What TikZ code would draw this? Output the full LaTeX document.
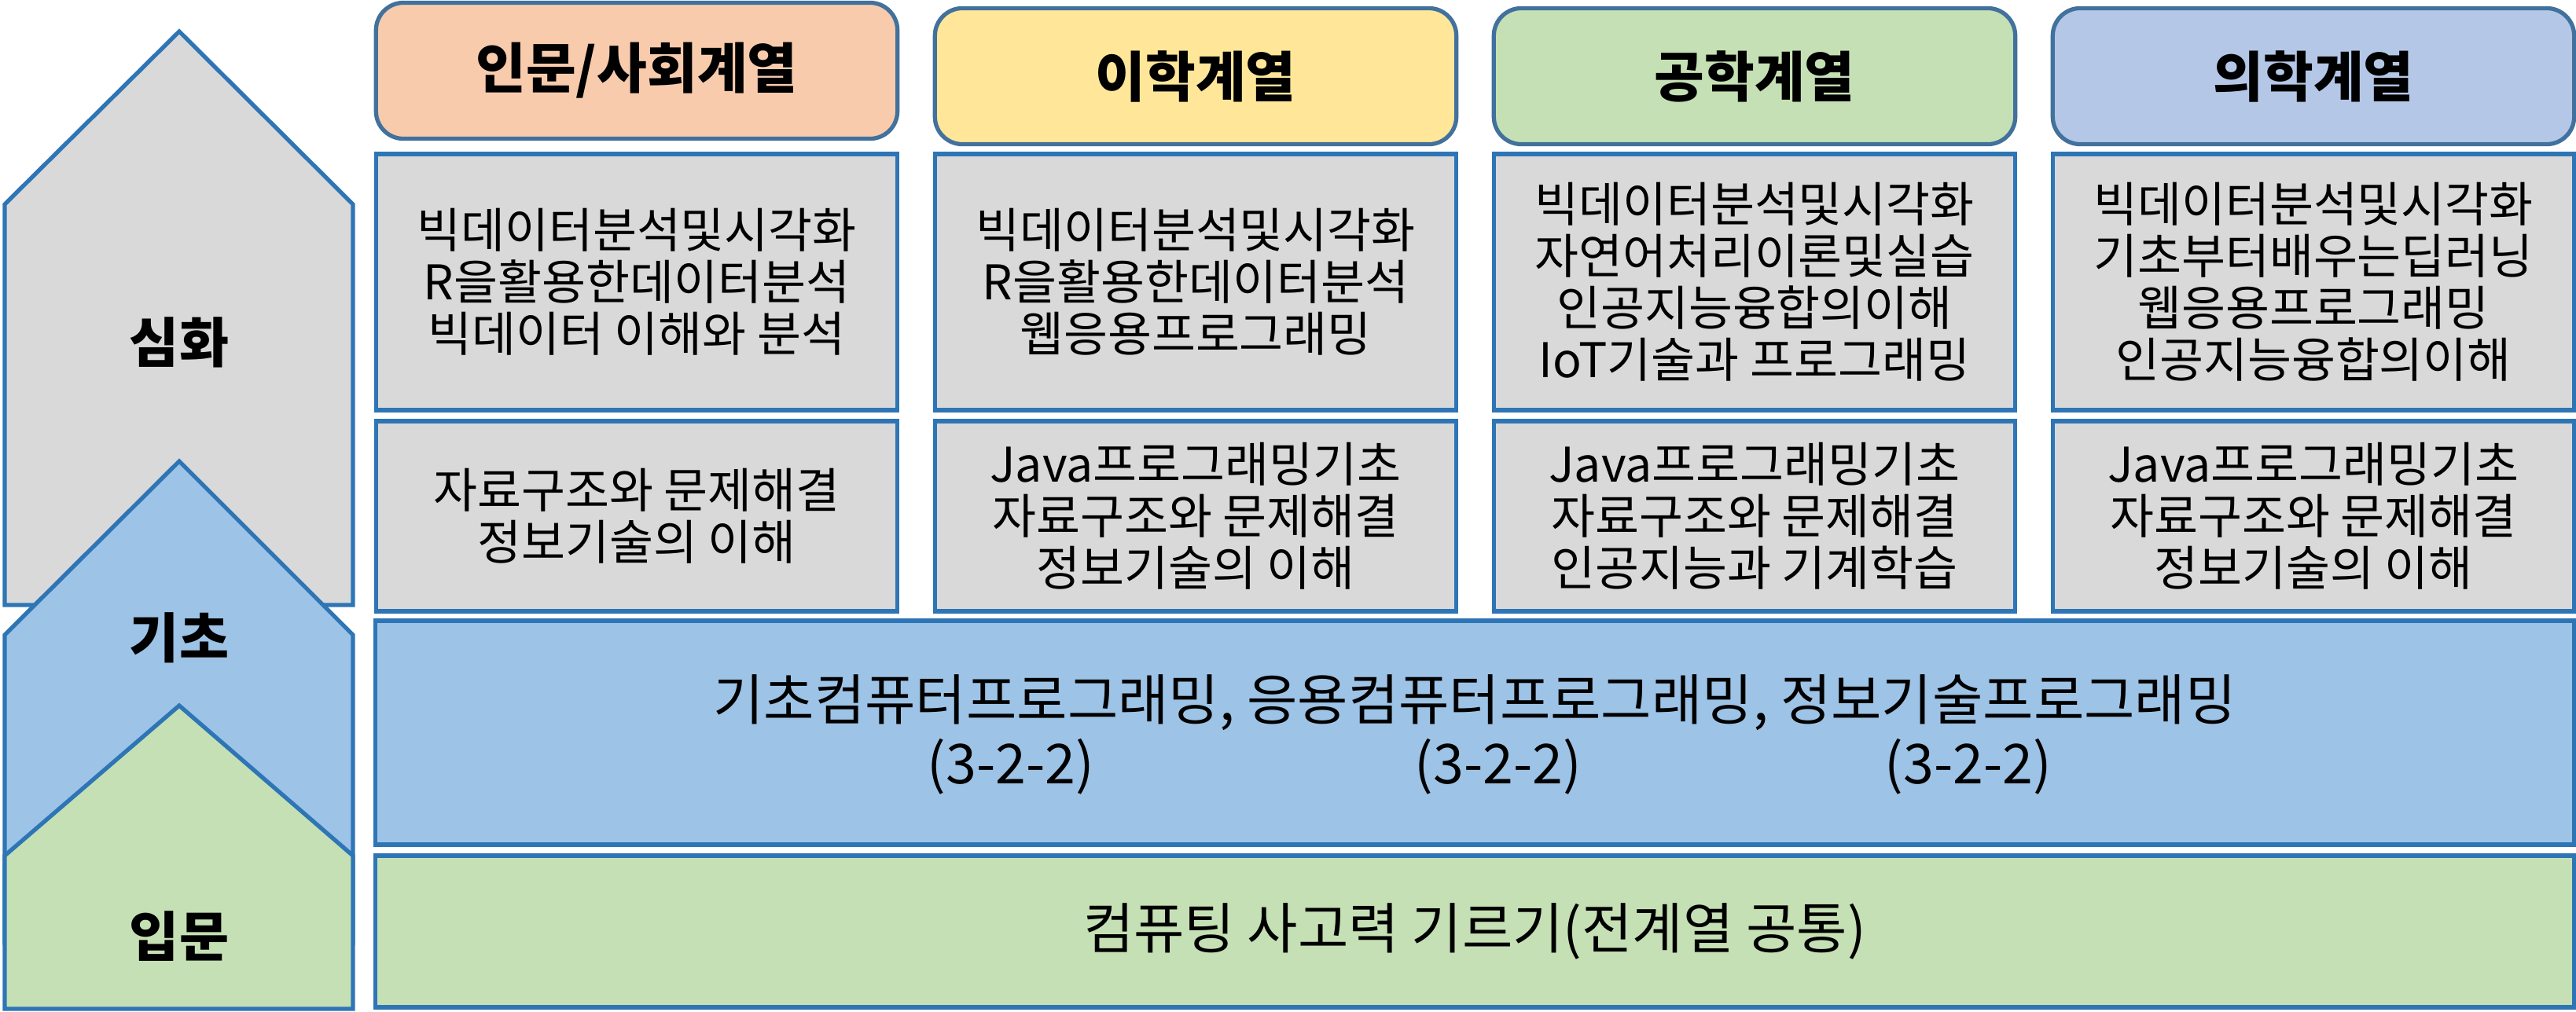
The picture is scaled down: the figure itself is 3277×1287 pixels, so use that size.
\documentclass[tikz,border=0pt]{standalone}
\usepackage{fontspec}
\setmainfont{Noto Sans CJK KR}
\definecolor{edge}{HTML}{2E75B6}
\definecolor{hedge}{HTML}{41719C}
\definecolor{peach}{HTML}{F8CBAD}
\definecolor{yel}{HTML}{FFE699}
\definecolor{grn}{HTML}{C5E0B4}
\definecolor{lav}{HTML}{B4C7E7}
\definecolor{gry}{HTML}{D9D9D9}
\definecolor{blu}{HTML}{9DC3E6}
\begin{document}
\begin{tikzpicture}[x=0.01cm,y=-0.01cm,
  lw/.style={line width=1.5pt},
  shapeedge/.style={draw=edge, lw},
  hdr/.style={draw=hedge, lw, rounded corners=0.35cm, minimum width=6.63cm, minimum height=1.73cm, inner sep=0pt, outer sep=0pt, font=\fontsize{19.7}{23}\selectfont\bfseries},
  cell/.style={draw=edge, lw, fill=gry, minimum width=6.63cm, inner sep=0pt, outer sep=0pt, align=center, font=\fontsize{17.3}{18.78}\selectfont},
  row1/.style={cell, minimum height=3.26cm},
  row2/.style={cell, minimum height=2.42cm},
  wide/.style={draw=edge, lw, minimum width=27.96cm, inner sep=0pt, outer sep=0pt},
  bigtxt/.style={inner sep=0pt, font=\fontsize{19.9}{23.3}\selectfont},
  lbl/.style={inner sep=0pt, font=\fontsize{19.5}{23}\selectfont\bfseries}
]
\useasboundingbox (0,0) rectangle (3277,1287);

% left level pentagons
\draw[shapeedge, fill=gry] (6,260) -- (228,40) -- (449,260) -- (449,770) -- (6,770) -- cycle;
\draw[shapeedge, fill=blu] (6,808) -- (228,587) -- (449,808) -- (449,1200) -- (6,1200) -- cycle;
\draw[shapeedge, fill=grn] (6,1089) -- (228,898) -- (449,1089) -- (449,1284) -- (6,1284) -- cycle;
\node[lbl] (simhwa) at (228,436) {심화};
\node[lbl] (gicho) at (228,812) {기초};
\node[lbl] (ipmun) at (228,1192) {입문};

% headers
\node[hdr, fill=peach] (h1) at (810,90) {인문/사회계열};
\node[hdr, fill=yel] (h2) at (1521,97) {이학계열};
\node[hdr, fill=grn] (h3) at (2232,97) {공학계열};
\node[hdr, fill=lav] (h4) at (2943,97) {의학계열};

% row 1
\node[row1] (a1) at (810,359) {빅데이터분석및시각화\\R을활용한데이터분석\\빅데이터 이해와 분석};
\node[row1] (a2) at (1521,359) {빅데이터분석및시각화\\R을활용한데이터분석\\웹응용프로그래밍};
\node[row1] (a3) at (2232,359) {빅데이터분석및시각화\\자연어처리이론및실습\\인공지능융합의이해\\IoT기술과 프로그래밍};
\node[row1] (a4) at (2943,359) {빅데이터분석및시각화\\기초부터배우는딥러닝\\웹응용프로그래밍\\인공지능융합의이해};

% row 2
\node[row2] (b1) at (810,657) {자료구조와 문제해결\\정보기술의 이해};
\node[row2] (b2) at (1521,657) {Java프로그래밍기초\\자료구조와 문제해결\\정보기술의 이해};
\node[row2] (b3) at (2232,657) {Java프로그래밍기초\\자료구조와 문제해결\\인공지능과 기계학습};
\node[row2] (b4) at (2943,657) {Java프로그래밍기초\\자료구조와 문제해결\\정보기술의 이해};

% wide boxes
\node[wide, fill=blu, minimum height=2.85cm] (basic) at (1876,932.5) {};
\node[bigtxt] (basict) at (1876,894) {기초컴퓨터프로그래밍, 응용컴퓨터프로그래밍, 정보기술프로그래밍};
\node[bigtxt] (c1) at (1286,976) {(3-2-2)};
\node[bigtxt] (c2) at (1906,976) {(3-2-2)};
\node[bigtxt] (c3) at (2504,976) {(3-2-2)};

\node[wide, fill=grn, minimum height=1.93cm, bigtxt] (intro) at (1876,1185.5) {컴퓨팅 사고력 기르기(전계열 공통)};
\end{tikzpicture}
\end{document}
